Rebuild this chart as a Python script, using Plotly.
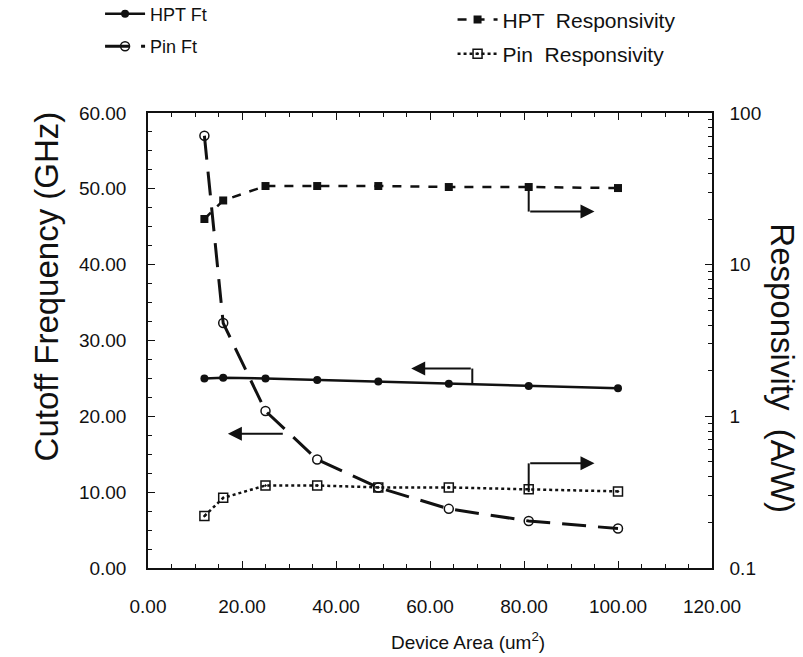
import plotly.graph_objects as go

# ---- data ----
area = [12, 16, 25, 36, 49, 64, 81, 100]
hpt_ft = [25.0, 25.1, 25.0, 24.8, 24.6, 24.3, 24.0, 23.7]
pin_ft = [57.0, 32.3, 20.7, 14.3, 10.6, 7.8, 6.2, 5.2]
hpt_resp = [20.0, 26.5, 33.0, 33.0, 33.0, 32.5, 32.5, 32.0]
pin_resp = [0.22, 0.29, 0.35, 0.35, 0.34, 0.34, 0.33, 0.32]

x_ticks = [0, 20, 40, 60, 80, 100, 120]
left_ticks = [0, 10, 20, 30, 40, 50, 60]
right_ticks = [0.1, 1, 10, 100]
right_labels = ["0.1", "1", "10", "100"]

FONT = "Liberation Sans"
BLACK = "#111111"

fig = go.Figure()
fig.add_trace(go.Scatter(x=area, y=hpt_ft, name="HPT Ft", mode="lines+markers",
                         legend="legend", legendgroup="a",
                         line=dict(color=BLACK, width=2.5),
                         marker=dict(symbol="circle", size=8, color=BLACK)))
fig.add_trace(go.Scatter(x=area, y=pin_ft, name="Pin Ft", mode="lines+markers",
                         legend="legend", legendgroup="b",
                         line=dict(color=BLACK, width=3, dash="24px,12px"),
                         marker=dict(symbol="circle-open", size=9, color=BLACK,
                                     line=dict(width=1.5))))
fig.add_trace(go.Scatter(x=area, y=hpt_resp, name="HPT  Responsivity", mode="lines+markers",
                         yaxis="y2", legend="legend2", legendgroup="c",
                         line=dict(color=BLACK, width=2.5, dash="dash"),
                         marker=dict(symbol="square", size=8, color=BLACK)))
fig.add_trace(go.Scatter(x=area, y=pin_resp, name="Pin  Responsivity", mode="lines+markers",
                         yaxis="y2", legend="legend2", legendgroup="d",
                         line=dict(color=BLACK, width=2.5, dash="dot"),
                         marker=dict(symbol="square-open-dot", size=9, color=BLACK,
                                     line=dict(width=1.5))))

# ---- pointer arrows (which axis each curve belongs to) ----
def bracket(xv, y_from, y_to, x_head):
    fig.add_shape(type="line", xref="x", yref="y", x0=xv, x1=xv, y0=y_from, y1=y_to,
                  line=dict(color=BLACK, width=2))
    fig.add_annotation(xref="x", yref="y", axref="x", ayref="y",
                       x=x_head, y=y_to, ax=xv, ay=y_to, text="",
                       showarrow=True, arrowhead=2, arrowsize=1.4, arrowwidth=2,
                       arrowcolor=BLACK)

bracket(69, 24.2, 26.3, 56)       # HPT Ft -> left axis
bracket(81, 50.2, 47.0, 95)       # HPT responsivity -> right axis
bracket(81, 10.0, 13.8, 95)       # Pin responsivity -> right axis
fig.add_annotation(xref="x", yref="y", axref="x", ayref="y",
                   x=17, y=17.7, ax=29, ay=17.7, text="",
                   showarrow=True, arrowhead=2, arrowsize=1.4, arrowwidth=2,
                   arrowcolor=BLACK)  # Pin Ft -> left axis

tickfont = dict(family=FONT, size=19, color=BLACK)

fig.update_layout(
    width=803, height=657,
    margin=dict(l=148, r=91, t=113, b=89, autoexpand=False),
    paper_bgcolor="white", plot_bgcolor="white",
    font=dict(family=FONT, color=BLACK),
    showlegend=True,
    legend=dict(orientation="v", x=-0.085, y=1.258, xanchor="left", yanchor="top",
                itemwidth=40, tracegroupgap=6,
                font=dict(family=FONT, size=18, color=BLACK),
                bgcolor="rgba(0,0,0,0)"),
    legend2=dict(orientation="v", x=0.54, y=1.25, xanchor="left", yanchor="top",
                 itemwidth=40, tracegroupgap=4,
                 font=dict(family=FONT, size=21, color=BLACK),
                 bgcolor="rgba(0,0,0,0)"),
    xaxis=dict(range=[0, 120], tickvals=x_ticks, tickformat=".2f",
               showgrid=False, zeroline=False, showline=True, linecolor=BLACK,
               linewidth=1.5, mirror="ticks", ticks="inside", ticklen=7,
               tickcolor=BLACK, ticklabelstandoff=20,
               minor=dict(ticks="inside", dtick=5, ticklen=4, tickcolor=BLACK),
               tickfont=tickfont),
    yaxis=dict(range=[0, 60], tickvals=left_ticks, tickformat=".2f",
               showgrid=False, zeroline=False, showline=True, linecolor=BLACK,
               linewidth=1.5, ticks="inside", ticklen=7, tickcolor=BLACK,
               ticklabelstandoff=16,
               minor=dict(ticks="inside", dtick=2.5, ticklen=4, tickcolor=BLACK),
               tickfont=tickfont),
    yaxis2=dict(type="log", range=[-1, 2], overlaying="y", side="right",
                tickvals=right_ticks, ticktext=right_labels,
                showgrid=False, zeroline=False, showline=True, linecolor=BLACK,
                linewidth=1.5, ticks="inside", ticklen=7, tickcolor=BLACK,
                ticklabelstandoff=12,
                minor=dict(ticks="inside", dtick="D1", ticklen=4, tickcolor=BLACK),
                tickfont=tickfont),
)

# axis titles
fig.add_annotation(xref="paper", yref="paper", x=-0.18, y=0.62, xanchor="center",
                   yanchor="middle", text="Cutoff Frequency (GHz)", textangle=-90,
                   showarrow=False, font=dict(family=FONT, size=33, color=BLACK))
fig.add_annotation(xref="paper", yref="paper", x=1.125, y=0.44, xanchor="center",
                   yanchor="middle", text="Responsivity  (A/W)", textangle=90,
                   showarrow=False, font=dict(family=FONT, size=33, color=BLACK))
fig.add_annotation(xref="paper", yref="paper", x=0.567, y=-0.16, xanchor="center",
                   yanchor="middle", text="Device Area (um<sup>2</sup>)",
                   showarrow=False, font=dict(family=FONT, size=19, color=BLACK))

fig.write_html("out.html")
